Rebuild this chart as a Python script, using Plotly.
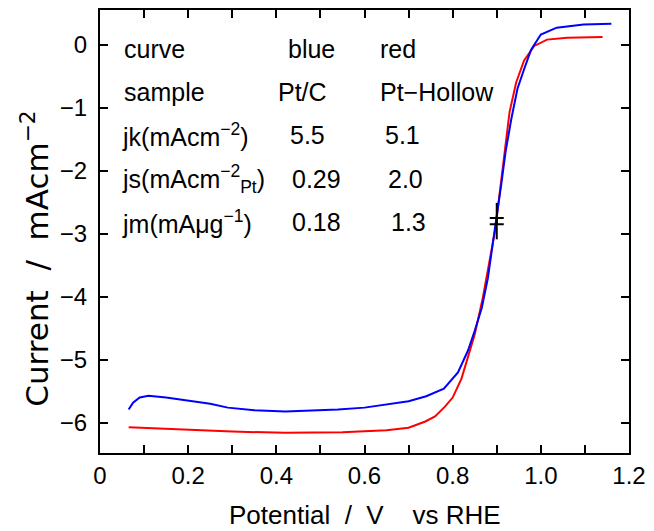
import plotly.graph_objects as go

# Pt/C (blue) ORR polarization curve
blue_potential = [0.065, 0.075, 0.09, 0.11, 0.15, 0.2, 0.25, 0.29, 0.35, 0.42, 0.48, 0.54,
                  0.6, 0.65, 0.7, 0.74, 0.78, 0.812, 0.835, 0.85, 0.866, 0.88, 0.89, 0.899,
                  0.91, 0.92, 0.933, 0.947, 0.962, 0.978, 1.0, 1.036, 1.097, 1.16]
blue_current = [-5.79, -5.68, -5.6, -5.57, -5.6, -5.65, -5.7, -5.76, -5.8, -5.82, -5.81, -5.79,
                -5.76, -5.71, -5.66, -5.58, -5.46, -5.2, -4.85, -4.54, -4.18, -3.7, -3.17, -2.76,
                -2.23, -1.7, -1.18, -0.7, -0.39, -0.08, 0.16, 0.27, 0.32, 0.33]

# Pt-Hollow (red) ORR polarization curve
red_potential = [0.065, 0.1, 0.2, 0.3, 0.42, 0.55, 0.65, 0.7, 0.738, 0.76, 0.783, 0.8, 0.82,
                 0.835, 0.85, 0.868, 0.884, 0.897, 0.906, 0.918, 0.929, 0.944, 0.962, 0.985,
                 1.014, 1.06, 1.14]
red_current = [-6.07, -6.08, -6.1, -6.14, -6.16, -6.15, -6.12, -6.08, -5.98, -5.9, -5.74, -5.6,
               -5.3, -4.95, -4.6, -4.03, -3.44, -2.92, -2.39, -1.7, -1.07, -0.6, -0.25, -0.02,
               0.08, 0.11, 0.12]

# reference mark (half-wave point)
mark_potential = [0.9]
mark_current = [-2.8]

# table
table_labels = ["curve", "sample", "jk(mAcm<sup>−2</sup>)", "js(mAcm<sup>−2</sup><sub>Pt</sub>)",
                "jm(mAμg<sup>−1</sup>)"]
table_blue = ["blue", "Pt/C", "5.5", "0.29", "0.18"]
table_red = ["red", "Pt−Hollow", "5.1", "2.0", "1.3"]

x_tickvals = [0, 0.1, 0.2, 0.3, 0.4, 0.5, 0.6, 0.7, 0.8, 0.9, 1.0, 1.1, 1.2]
x_ticktext = ["0", "", "0.2", "", "0.4", "", "0.6", "", "0.8", "", "1.0", "", "1.2"]
y_tickvals = [0, -1, -2, -3, -4, -5, -6]
y_ticktext = ["0", "−1", "−2", "−3", "−4", "−5", "−6"]

x_title = "Potential\u00a0\u00a0/\u00a0\u00a0V\u00a0\u00a0\u00a0\u00a0vs RHE"
y_title = "Current\u00a0\u00a0/\u00a0\u00a0mAcm<sup>−2</sup>"

SANS = "Liberation Sans, Arial, sans-serif"
WIDE = "DejaVu Sans, sans-serif"

fig = go.Figure()
fig.add_trace(go.Scatter(x=red_potential, y=red_current, mode="lines",
                         line=dict(color="#ff0000", width=2), showlegend=False))
fig.add_trace(go.Scatter(x=blue_potential, y=blue_current, mode="lines",
                         line=dict(color="#0000ff", width=2), showlegend=False))
fig.add_trace(go.Scatter(x=mark_potential, y=mark_current, mode="markers",
                         marker=dict(symbol="line-ns", size=26, line=dict(color="black", width=2)),
                         error_y=dict(type="constant", value=0.05, width=7, thickness=2, color="black"),
                         showlegend=False))

L, R, T, B = 100, 18, 8, 78
W, H = 654, 531
pw, ph = W - L - R, H - T - B

def px(x):
    return (x - L) / pw

def py(y):
    return (H - B - y) / ph

row_y = [47, 90, 134, 178, 221]
col1_x = [122, 122, 120, 120, 120]
col2_x = [288, 278, 290, 293, 293]
col3_x = [382, 382, 387, 390, 393]
for i in range(5):
    for xs, txt in ((col1_x, table_labels), (col2_x, table_blue), (col3_x, table_red)):
        fig.add_annotation(x=px(xs[i]), y=py(row_y[i]), xref="paper", yref="paper",
                           text=txt[i], showarrow=False, xanchor="left", yanchor="middle",
                           font=dict(family=SANS, size=25, color="black"))

# axis titles
fig.add_annotation(x=px(368), y=py(515), xref="paper", yref="paper", text=x_title,
                   showarrow=False, xanchor="center", yanchor="middle",
                   font=dict(family=SANS, size=26, color="black"))
fig.add_annotation(x=px(34), y=py(258), xref="paper", yref="paper", text=y_title,
                   showarrow=False, xanchor="center", yanchor="middle", textangle=-90,
                   font=dict(family=WIDE, size=31, color="black"))

fig.update_layout(
    width=W, height=H,
    margin=dict(l=L, r=R, t=T, b=B),
    paper_bgcolor="white", plot_bgcolor="white",
    font=dict(family=SANS, size=24, color="black"),
    xaxis=dict(range=[0, 1.2], tickvals=x_tickvals, ticktext=x_ticktext,
               ticks="inside", ticklen=8, tickwidth=1.5, tickcolor="black",
               showline=True, linewidth=2, linecolor="black", mirror="ticks",
               showgrid=False, zeroline=False),
    yaxis=dict(range=[-6.48, 0.55], tickvals=y_tickvals, ticktext=y_ticktext,
               ticks="inside", ticklen=8, tickwidth=1.5, tickcolor="black",
               showline=True, linewidth=2, linecolor="black", mirror="ticks",
               showgrid=False, zeroline=False, ticklabelstandoff=6),
)

fig.write_html("out.html")
